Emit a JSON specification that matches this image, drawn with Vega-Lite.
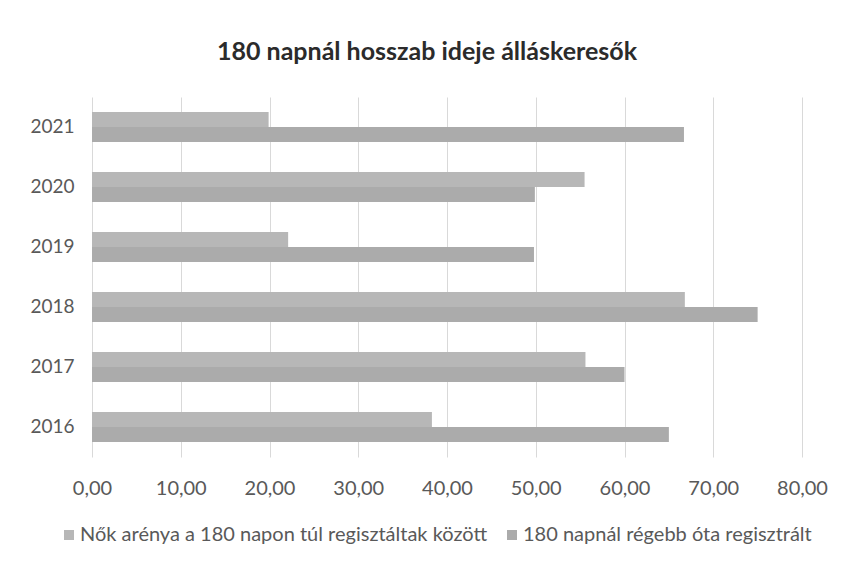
{
  "$schema": "https://vega.github.io/schema/vega-lite/v6.json",
  "width": 710,
  "height": 360,
  "autosize": {"type": "none"},
  "padding": {"left": 92, "top": 97, "right": 42, "bottom": 109},
  "background": "white",
  "title": {
    "text": "180 napnál hosszab ideje álláskeresők",
    "anchor": "middle",
    "dx": -20,
    "offset": 32,
    "font": "Lato",
    "fontSize": 25,
    "fontWeight": "bold",
    "color": "#2b2b2b"
  },
  "data": {
    "values": [
      {"year": "2021", "series": "Nők arénya a 180 napon túl regisztáltak között", "value": 19.9},
      {"year": "2021", "series": "180 napnál régebb óta regisztrált", "value": 66.7},
      {"year": "2020", "series": "Nők arénya a 180 napon túl regisztáltak között", "value": 55.5},
      {"year": "2020", "series": "180 napnál régebb óta regisztrált", "value": 49.9},
      {"year": "2019", "series": "Nők arénya a 180 napon túl regisztáltak között", "value": 22.1},
      {"year": "2019", "series": "180 napnál régebb óta regisztrált", "value": 49.8},
      {"year": "2018", "series": "Nők arénya a 180 napon túl regisztáltak között", "value": 66.8},
      {"year": "2018", "series": "180 napnál régebb óta regisztrált", "value": 75.0},
      {"year": "2017", "series": "Nők arénya a 180 napon túl regisztáltak között", "value": 55.6},
      {"year": "2017", "series": "180 napnál régebb óta regisztrált", "value": 60.0},
      {"year": "2016", "series": "Nők arénya a 180 napon túl regisztáltak között", "value": 38.3},
      {"year": "2016", "series": "180 napnál régebb óta regisztrált", "value": 65.0}
    ]
  },
  "mark": {"type": "bar"},
  "encoding": {
    "y": {
      "field": "year",
      "type": "nominal",
      "sort": ["2021", "2020", "2019", "2018", "2017", "2016"],
      "scale": {"paddingInner": 0.5, "paddingOuter": 0.25},
      "axis": {
        "title": null,
        "domain": false,
        "ticks": false,
        "tickSize": 0,
        "labelPadding": 18,
        "labelFont": "Lato",
        "labelFontSize": 19,
        "labelColor": "#595959"
      }
    },
    "yOffset": {
      "field": "series",
      "type": "nominal",
      "sort": ["Nők arénya a 180 napon túl regisztáltak között", "180 napnál régebb óta regisztrált"]
    },
    "x": {
      "field": "value",
      "type": "quantitative",
      "scale": {"domain": [0, 80], "nice": false},
      "axis": {
        "title": null,
        "values": [0, 10, 20, 30, 40, 50, 60, 70, 80],
        "labelExpr": "replace(format(datum.value, '.2f'), '.', ',')",
        "labelFlush": false,
        "domain": false,
        "ticks": false,
        "tickSize": 0,
        "labelPadding": 21,
        "labelFont": "Lato",
        "labelFontSize": 20,
        "labelColor": "#595959",
        "grid": true,
        "gridColor": "#d9d9d9",
        "gridWidth": 1
      }
    },
    "color": {
      "field": "series",
      "type": "nominal",
      "sort": ["Nők arénya a 180 napon túl regisztáltak között", "180 napnál régebb óta regisztrált"],
      "scale": {"range": ["#b7b7b7", "#ababab"]},
      "legend": {
        "title": null,
        "orient": "none",
        "direction": "horizontal",
        "legendX": -33,
        "legendY": 428,
        "symbolType": "square",
        "symbolSize": 100,
        "symbolStrokeWidth": 0,
        "labelFont": "Lato",
        "labelFontSize": 20,
        "labelColor": "#595959",
        "labelOffset": 1,
        "labelLimit": 0,
        "columnPadding": 14
      }
    }
  },
  "config": {
    "view": {"stroke": null}
  }
}
